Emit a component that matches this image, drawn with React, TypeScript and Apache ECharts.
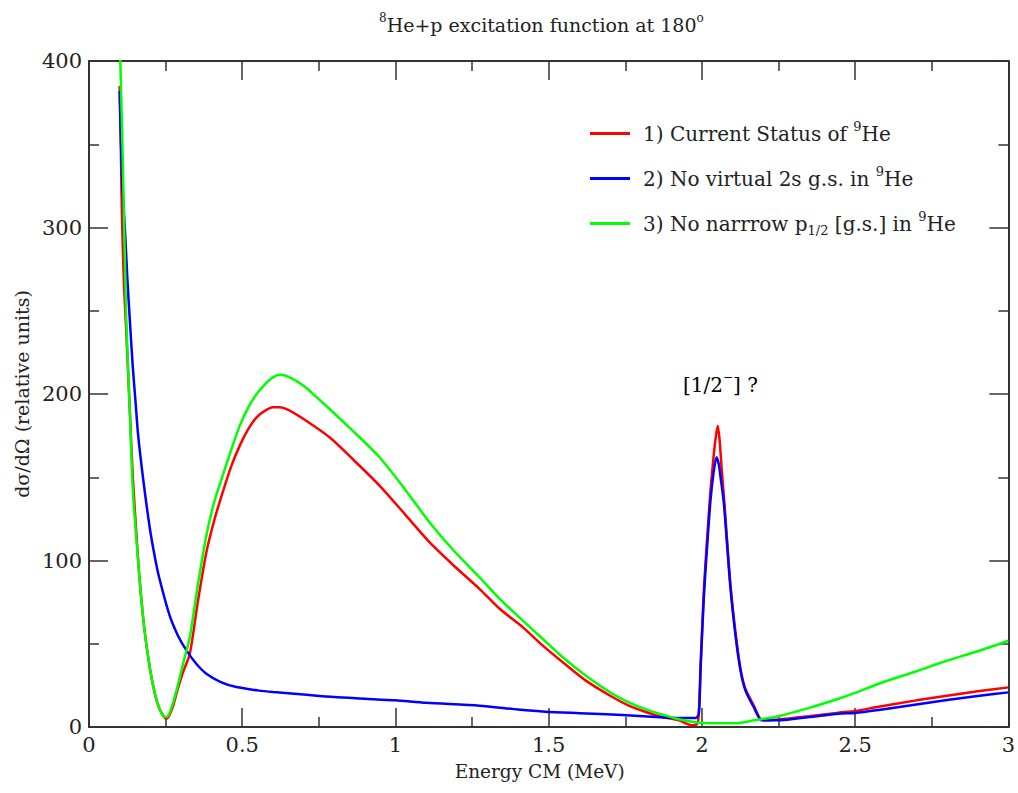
import React, { useEffect, useRef } from "react";
import * as echarts from "echarts";

const currentStatus: [number, number][] = [
  [0.1, 385], [0.103, 360], [0.106, 322], [0.11, 290], [0.115, 262], [0.121, 240],
  [0.132, 195], [0.143, 150], [0.155, 115], [0.165, 89], [0.18, 60], [0.198, 36],
  [0.215, 20], [0.23, 11], [0.245, 6], [0.252, 5], [0.262, 7], [0.275, 13],
  [0.29, 23], [0.307, 33], [0.329, 44], [0.355, 75], [0.383, 105], [0.41, 125],
  [0.438, 142], [0.465, 157], [0.492, 169], [0.52, 179], [0.547, 186], [0.575, 190],
  [0.6, 192], [0.622, 192], [0.65, 190.5], [0.7, 185], [0.785, 174], [0.86, 161],
  [0.948, 145], [1.03, 128], [1.111, 111], [1.19, 97], [1.274, 83], [1.34, 71],
  [1.415, 60], [1.48, 49], [1.545, 39], [1.62, 28], [1.708, 18], [1.76, 13],
  [1.817, 9], [1.87, 6], [1.925, 4], [1.95, 2], [1.968, 1], [1.985, 2],
  [1.99, 8], [1.996, 38], [2.007, 84], [2.017, 113], [2.028, 142], [2.039, 164],
  [2.046, 175], [2.052, 181], [2.058, 172], [2.065, 154], [2.072, 138], [2.082, 113],
  [2.093, 86], [2.109, 58], [2.126, 35], [2.142, 23], [2.169, 13], [2.19, 5],
  [2.2, 4], [2.25, 4.5], [2.35, 6.5], [2.446, 8.6], [2.5, 9.6], [2.577, 12.2],
  [2.7, 16], [2.8, 18.8], [2.9, 21.5], [3.0, 23.8],
];

const noVirtual2s: [number, number][] = [
  [0.1, 382], [0.104, 352], [0.11, 322], [0.118, 296], [0.125, 270], [0.132, 248],
  [0.143, 216], [0.152, 195], [0.16, 176], [0.176, 150], [0.198, 120], [0.215, 102],
  [0.23, 89], [0.263, 67], [0.29, 55], [0.318, 46], [0.35, 38], [0.383, 32],
  [0.43, 27], [0.481, 24], [0.55, 22], [0.601, 21], [0.7, 19.5], [0.8, 18],
  [0.9, 17], [1.0, 16], [1.1, 14.5], [1.274, 12.8], [1.4, 10.5], [1.49, 9.2],
  [1.6, 8.3], [1.74, 7.2], [1.85, 6], [1.925, 5.4], [1.98, 5.4], [1.99, 8],
  [1.996, 36], [2.007, 80], [2.017, 108], [2.028, 136], [2.039, 154], [2.048, 162],
  [2.055, 158], [2.061, 150], [2.072, 134], [2.082, 110], [2.093, 84], [2.109, 56],
  [2.126, 34], [2.142, 22], [2.169, 12], [2.196, 4], [2.25, 4], [2.35, 6],
  [2.446, 8], [2.5, 8.4], [2.577, 10.2], [2.7, 13.5], [2.8, 16.2], [2.9, 18.6],
  [3.0, 20.8],
];

const noNarrowP12: [number, number][] = [
  [0.1, 415], [0.102, 401], [0.11, 343], [0.121, 248], [0.132, 195], [0.143, 142],
  [0.155, 112], [0.165, 89], [0.18, 60], [0.198, 36], [0.215, 20], [0.23, 11],
  [0.245, 6], [0.252, 6], [0.262, 8], [0.275, 15], [0.29, 25], [0.307, 38],
  [0.329, 54], [0.355, 85], [0.383, 115], [0.41, 136], [0.438, 152], [0.465, 167],
  [0.492, 181], [0.52, 192], [0.547, 200], [0.575, 206], [0.6, 210], [0.623, 211.5],
  [0.65, 210.5], [0.7, 205], [0.785, 191], [0.86, 178], [0.948, 162], [1.03, 143],
  [1.111, 123], [1.19, 106], [1.274, 90], [1.34, 77], [1.415, 64], [1.48, 53],
  [1.545, 42], [1.62, 31], [1.708, 20], [1.76, 15], [1.817, 10.6], [1.87, 7.5],
  [1.925, 4.6], [1.99, 2.6], [2.05, 2.2], [2.12, 2.4], [2.17, 4], [2.25, 6.5],
  [2.35, 11.5], [2.446, 17], [2.5, 20.5], [2.577, 26], [2.7, 33.5], [2.794, 39.5],
  [2.9, 45.5], [3.0, 51.8],
];

const seriesNames = ["Current Status of 9He", "No virtual 2s g.s. in 9He", "No narrow p1/2 [g.s.] in 9He"];
const legendLabels = [
  "{t|1) Current Status of }{sup|9}{t|He}",
  "{t|2) No virtual 2s g.s. in }{sup|9}{t|He}",
  "{t|3) No narrrow p}{sub|1/2}{t| [g.s.] in }{sup|9}{t|He}",
];
const seriesColors = ["#ff0000", "#0000ff", "#00ff00"];

const FONT = "'DejaVu Serif', 'Liberation Serif', serif";
const INK = "#222";

export default function App() {
  const ref = useRef<HTMLDivElement>(null);
  useEffect(() => {
    if (!ref.current) return;
    const chart = echarts.init(ref.current, undefined, { renderer: "svg" });
    const mkRich = (size: number, small: number) => ({
      t: { fontSize: size, fontFamily: FONT, fontWeight: "normal", color: INK, lineHeight: size + 7 },
      sup: { fontSize: small, fontFamily: FONT, fontWeight: "normal", color: INK, lineHeight: small, verticalAlign: "top" },
      sub: { fontSize: small, fontFamily: FONT, fontWeight: "normal", color: INK, lineHeight: small, verticalAlign: "bottom" },
    });
    const boxAxisX = (pos: "bottom" | "top", labels: boolean) => ({
      type: "value",
      position: pos,
      min: 0,
      max: 3,
      interval: 0.5,
      axisLine: { show: true, onZero: false, lineStyle: { color: "#333", width: 2 } },
      axisTick: { show: true, inside: true, length: 19, lineStyle: { color: "#333", width: 1.5 } },
      minorTick: { show: true, splitNumber: 2, length: 10, lineStyle: { color: "#333", width: 1.5 } },
      splitLine: { show: false },
      axisLabel: { show: labels, fontSize: 21, fontFamily: FONT, color: INK, margin: 7 },
      ...(labels
        ? {
            name: "Energy CM (MeV)",
            nameLocation: "middle",
            nameGap: 35,
            nameTextStyle: { fontSize: 18.5, fontFamily: FONT, color: INK, padding: [0, 18, 0, 0] },
          }
        : {}),
    });
    const boxAxisY = (pos: "left" | "right", labels: boolean) => ({
      type: "value",
      position: pos,
      min: 0,
      max: 400,
      interval: 100,
      axisLine: { show: true, onZero: false, lineStyle: { color: "#333", width: 2 } },
      axisTick: { show: true, inside: true, length: 19, lineStyle: { color: "#333", width: 1.5 } },
      minorTick: { show: true, splitNumber: 2, length: 10, lineStyle: { color: "#333", width: 1.5 } },
      splitLine: { show: false },
      axisLabel: { show: labels, fontSize: 21, fontFamily: FONT, color: INK, margin: 7 },
      ...(labels
        ? {
            name: "dσ/dΩ (relative units)",
            nameLocation: "middle",
            nameGap: 58,
            nameRotate: 90,
            nameTextStyle: { fontSize: 19, fontFamily: FONT, color: INK },
          }
        : {}),
    });
    const datasets = [currentStatus, noVirtual2s, noNarrowP12];
    chart.setOption({
      animation: false,
      backgroundColor: "#fff",
      title: {
        text: "{sup|8}{t|He+p excitation function at 180}{sup|o}",
        left: 374,
        top: 7,
        textStyle: { fontWeight: "normal", rich: mkRich(19, 12) },
      },
      legend: {
        orient: "vertical",
        left: 585,
        top: 115,
        itemWidth: 40,
        itemHeight: 3,
        itemGap: 21.5,
        icon: "rect",
        data: seriesNames,
        formatter: (name: string) => legendLabels[seriesNames.indexOf(name)],
        textStyle: { padding: [0, 0, 0, 8], rich: mkRich(20, 13) },
      },
      grid: { left: 89, right: 8, top: 61, bottom: 66, containLabel: false },
      xAxis: [boxAxisX("bottom", true), boxAxisX("top", false)],
      yAxis: [boxAxisY("left", true), boxAxisY("right", false)],
      graphic: [
        {
          type: "text",
          left: 683,
          top: 371,
          style: {
            text: "{t|[1/2}{sup|−}{t|] ?}",
            rich: mkRich(20, 12),
          },
        },
      ],
      series: datasets.map((d, i) => ({
        name: seriesNames[i],
        type: "line",
        xAxisIndex: 0,
        yAxisIndex: 0,
        data: d,
        showSymbol: false,
        symbol: "none",
        clip: true,
        smooth: 0.25,
        color: seriesColors[i],
        lineStyle: { color: seriesColors[i], width: 2.5 },
        z: 2 + i,
      })),
    });
    return () => chart.dispose();
  }, []);
  return (
    <div
      ref={ref}
      style={{ position: "absolute", left: 0, top: 0, width: 1018, height: 793 }}
    />
  );
}
